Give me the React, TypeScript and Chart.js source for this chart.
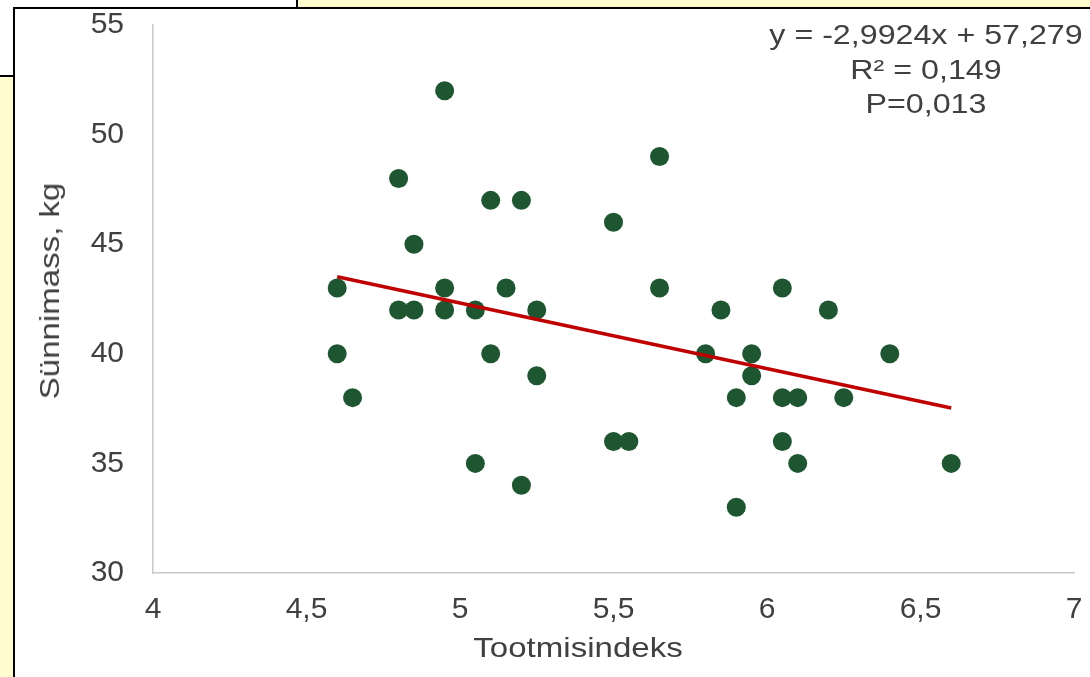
import React, { useEffect, useRef } from "react";
import { Chart, registerables } from "chart.js";

Chart.register(...registerables);

// Data
const xValues = [4.95, 4.8, 5.65, 5.1, 5.2, 5.5, 4.85, 4.6, 4.95, 5.15, 5.65, 6.05, 4.8, 4.85, 4.95, 5.05, 5.25, 5.85, 6.2, 4.6, 5.1, 5.8, 5.95, 6.4, 5.95, 5.25, 4.65, 5.9, 6.05, 6.1, 6.25, 5.5, 5.55, 6.05, 5.05, 6.1, 6.6, 5.2, 5.9];
const yValues = [52, 48, 49, 47, 47, 46, 45, 43, 43, 43, 43, 43, 42, 42, 42, 42, 42, 42, 42, 40, 40, 40, 40, 40, 39, 39, 38, 38, 38, 38, 38, 36, 36, 36, 35, 35, 35, 34, 33];

// Trend line (from the equation shown on the chart)
const slope = -2.9924;
const intercept = 57.279;
const equationLines = ["y = -2,9924x + 57,279", "R² = 0,149", "P=0,013"];

const xTicks = [4, 4.5, 5, 5.5, 6, 6.5, 7];
const yTicks = [30, 35, 40, 45, 50, 55];
const xTitle = "Tootmisindeks";
const yTitle = "Sünnimass, kg";

const FONT = "'Liberation Sans', Arial, sans-serif";
const TEXT_COLOR = "#404040";
const YELLOW = "#FFFCCF";

export default function App() {
  const canvasRef = useRef<HTMLCanvasElement | null>(null);

  useEffect(() => {
    const canvas = canvasRef.current;
    if (!canvas) return;
    const points = xValues.map((x, i) => ({ x, y: yValues[i] }));
    const xMin = Math.min(...xValues);
    const xMax = Math.max(...xValues);
    const trend = [xMin, xMax].map((x) => ({ x, y: slope * x + intercept }));
    const fmt = (v: number | string) => String(v).replace(".", ",");

    const chart = new Chart(canvas, {
      type: "scatter",
      data: {
        datasets: [
          {
            data: trend,
            showLine: true,
            borderColor: "#C00000",
            borderWidth: 3.5,
            pointRadius: 0,
            order: 0,
          },
          {
            data: points,
            backgroundColor: "#1E5631",
            borderColor: "#1E5631",
            borderWidth: 0,
            pointRadius: 9.5,
            order: 1,
          },
        ],
      },
      options: {
        responsive: false,
        animation: false,
        devicePixelRatio: 1,
        layout: { padding: { left: 0, right: 16, top: 25, bottom: 0 } },
        plugins: { legend: { display: false }, tooltip: { enabled: false } },
        scales: {
          x: {
            type: "linear",
            min: xTicks[0],
            max: xTicks[xTicks.length - 1],
            afterBuildTicks: (axis: any) => {
              axis.ticks = xTicks.map((v) => ({ value: v }));
            },
            afterFit: (axis: any) => {
              axis.height = 104;
              axis.paddingLeft = 0;
              axis.paddingRight = 0;
              axis.paddingTop = 0;
              axis.paddingBottom = 0;
            },
            grid: { display: false, drawTicks: false },
            border: { display: true, color: "#C8C8C8", width: 1.5 },
            ticks: {
              padding: 19,
              color: TEXT_COLOR,
              font: { family: FONT, size: 30 },
              callback: (v: any) => fmt(v),
              maxRotation: 0,
            },
          },
          y: {
            type: "linear",
            min: yTicks[0],
            max: yTicks[yTicks.length - 1],
            afterBuildTicks: (axis: any) => {
              axis.ticks = yTicks.map((v) => ({ value: v }));
            },
            afterFit: (axis: any) => {
              axis.width = 153;
              axis.paddingLeft = 0;
              axis.paddingRight = 0;
              axis.paddingTop = 0;
              axis.paddingBottom = 0;
            },
            grid: { display: false, drawTicks: false },
            border: { display: true, color: "#C8C8C8", width: 1.5 },
            ticks: {
              padding: 29,
              color: TEXT_COLOR,
              font: { family: FONT, size: 30 },
              callback: (v: any) => fmt(v),
            },
          },
        },
      },
    } as any);
    return () => chart.destroy();
  }, []);

  const textStyle: React.CSSProperties = {
    position: "absolute",
    fontFamily: FONT,
    fontSize: 28,
    color: TEXT_COLOR,
    whiteSpace: "nowrap",
    lineHeight: 1,
  };

  return (
    <div style={{ position: "fixed", left: 0, top: 0, width: 1090, height: 677, overflow: "hidden", background: "#fff" }}>
      {/* decorative background boxes */}
      <div style={{ position: "absolute", left: 296, top: -2, width: 820, height: 10, background: YELLOW, borderLeft: "2px solid #000", boxSizing: "border-box" }} />
      <div style={{ position: "absolute", left: -2, top: 75, width: 16, height: 640, background: YELLOW, borderTop: "2px solid #000", boxSizing: "border-box" }} />
      <div style={{ position: "absolute", left: 13, top: 7, width: 1100, height: 700, background: "#fff", borderLeft: "2px solid #000", borderTop: "2px solid #000", boxSizing: "border-box", boxShadow: "1px 1px 2px rgba(0,0,0,0.3)" }} />
      <canvas ref={canvasRef} width={1090} height={677} style={{ position: "absolute", left: 0, top: 0, width: 1090, height: 677 }} />
      {/* axis titles */}
      <div style={{ ...textStyle, left: 50, top: 291, transform: "translate(-50%, -50%) rotate(-90deg) scaleX(1.18)" }}>{yTitle}</div>
      <div style={{ ...textStyle, left: 578, top: 648, transform: "translate(-50%, -50%) scaleX(1.18)" }}>{xTitle}</div>
      {/* equation annotation */}
      {equationLines.map((t, i) => (
        <div key={i} style={{ ...textStyle, left: 926, top: 35 + i * 34.5, transform: "translate(-50%, -50%) scaleX(1.15)" }}>{t}</div>
      ))}
    </div>
  );
}
